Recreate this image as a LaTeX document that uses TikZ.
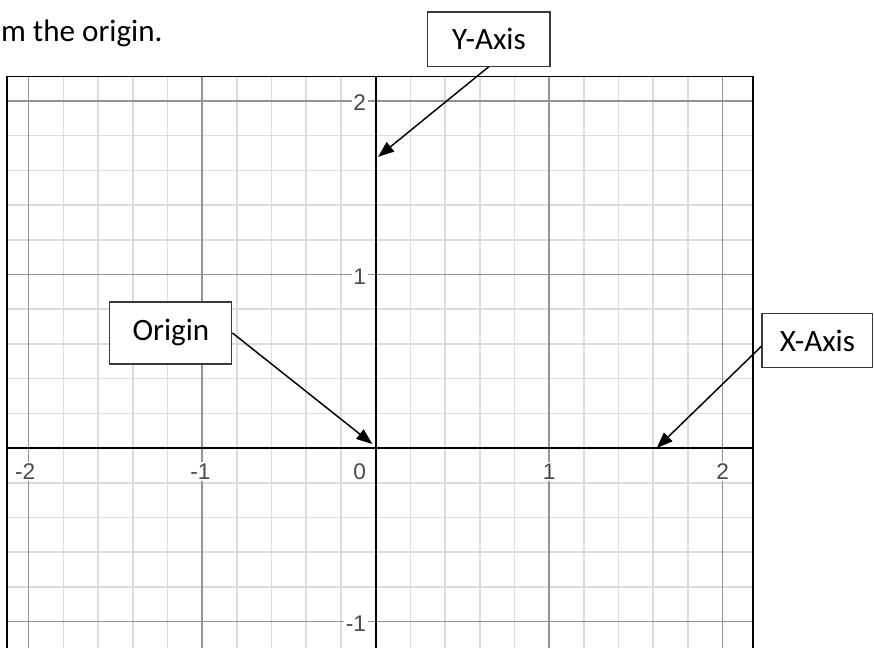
\documentclass[tikz,border=0pt]{standalone}
\usepackage{fontspec}
\setmainfont{Carlito}
\newfontfamily\tickfont{Liberation Sans}
\usetikzlibrary{arrows.meta,positioning}
\definecolor{GridMinor}{HTML}{DCDCDC}
\definecolor{GridMajor}{HTML}{949494}
\definecolor{TickInk}{HTML}{4A4A4A}
\definecolor{BoxLine}{HTML}{3A3A3A}

\begin{document}
\begin{tikzpicture}[x=130.125pt,y=130.125pt,
  minorline/.style={GridMinor,line width=1.2pt},
  majorline/.style={GridMajor,line width=1.2pt},
  ticklabel/.style={font=\tickfont\fontsize{17}{19}\selectfont,text=TickInk,fill=white,inner sep=1.2pt},
  callout/.style={draw=BoxLine,fill=white,line width=0.8pt,font=\fontsize{23.3}{27}\selectfont,inner sep=0pt},
  pointer/.style={-{Triangle[length=12pt,width=9pt]},black,line width=1.1pt}]
\useasboundingbox (-2.165,-1.153) rectangle (2.872,2.582);
% minor grid
\draw[minorline] (-1.8,-1.153) -- (-1.8,2.140);
\draw[minorline] (-1.6,-1.153) -- (-1.6,2.140);
\draw[minorline] (-1.4,-1.153) -- (-1.4,2.140);
\draw[minorline] (-1.2,-1.153) -- (-1.2,2.140);
\draw[minorline] (-0.8,-1.153) -- (-0.8,2.140);
\draw[minorline] (-0.6,-1.153) -- (-0.6,2.140);
\draw[minorline] (-0.4,-1.153) -- (-0.4,2.140);
\draw[minorline] (-0.2,-1.153) -- (-0.2,2.140);
\draw[minorline] (0.2,-1.153) -- (0.2,2.140);
\draw[minorline] (0.4,-1.153) -- (0.4,2.140);
\draw[minorline] (0.6,-1.153) -- (0.6,2.140);
\draw[minorline] (0.8,-1.153) -- (0.8,2.140);
\draw[minorline] (1.2,-1.153) -- (1.2,2.140);
\draw[minorline] (1.4,-1.153) -- (1.4,2.140);
\draw[minorline] (1.6,-1.153) -- (1.6,2.140);
\draw[minorline] (1.8,-1.153) -- (1.8,2.140);
\draw[minorline] (-2.125,-0.8) -- (2.175,-0.8);
\draw[minorline] (-2.125,-0.6) -- (2.175,-0.6);
\draw[minorline] (-2.125,-0.4) -- (2.175,-0.4);
\draw[minorline] (-2.125,-0.2) -- (2.175,-0.2);
\draw[minorline] (-2.125,0.2) -- (2.175,0.2);
\draw[minorline] (-2.125,0.4) -- (2.175,0.4);
\draw[minorline] (-2.125,0.6) -- (2.175,0.6);
\draw[minorline] (-2.125,0.8) -- (2.175,0.8);
\draw[minorline] (-2.125,1.2) -- (2.175,1.2);
\draw[minorline] (-2.125,1.4) -- (2.175,1.4);
\draw[minorline] (-2.125,1.6) -- (2.175,1.6);
\draw[minorline] (-2.125,1.8) -- (2.175,1.8);
% major grid
\draw[majorline] (-2,-1.153) -- (-2,2.140);
\draw[majorline] (-1,-1.153) -- (-1,2.140);
\draw[majorline] (1,-1.153) -- (1,2.140);
\draw[majorline] (2,-1.153) -- (2,2.140);
\draw[majorline] (-2.125,-1) -- (2.175,-1);
\draw[majorline] (-2.125,1) -- (2.175,1);
\draw[majorline] (-2.125,2) -- (2.175,2);
% tick labels
\node[ticklabel] (xm2) at (-2.02,-0.135) {-2};
\node[ticklabel] (xm1) at (-1.01,-0.135) {-1};
\node[ticklabel,anchor=east] (x0) at (-0.045,-0.135) {0};
\node[ticklabel] (x1) at (1,-0.135) {1};
\node[ticklabel] (x2) at (2,-0.135) {2};
\node[ticklabel,anchor=east] (y2) at (-0.045,1.988) {2};
\node[ticklabel,anchor=east] (y1) at (-0.045,0.990) {1};
\node[ticklabel,anchor=east] (ym1) at (-0.045,-1.010) {-1};
% axes and frame
\draw[black,line width=1.6pt] (0,-1.153) -- (0,2.140);
\draw[black,line width=1.6pt] (-2.125,0) -- (2.175,0);
\draw[black,line width=1.1pt] (-2.125,-1.153) -- (-2.125,2.140) -- (2.175,2.140) -- (2.175,-1.153);
% text and callouts
\node[anchor=base west,inner sep=0pt,font=\fontsize{23.3}{27}\selectfont] (intro) at (-2.160,2.340) {m the origin.};
\node[callout,minimum width=91.5pt,minimum height=40.5pt] (yaxisbox) at (0.653,2.357) {Y-Axis};
\node[callout,minimum width=91.5pt,minimum height=46.5pt] (originbox) at (-1.180,0.663) {Origin};
\node[callout,minimum width=83.2pt,minimum height=40.5pt] (xaxisbox) at (2.546,0.617) {X-Axis};
\coordinate (ytip) at (0.014,1.678);
\coordinate (otip) at (-0.019,0.023);
\coordinate (xtip) at (1.620,0.000);
\draw[pointer] (yaxisbox.south) -- (ytip);
\draw[pointer] (originbox.east) -- (otip);
\draw[pointer] ([yshift=-4pt]xaxisbox.west) -- (xtip);
\end{tikzpicture}
\end{document}
